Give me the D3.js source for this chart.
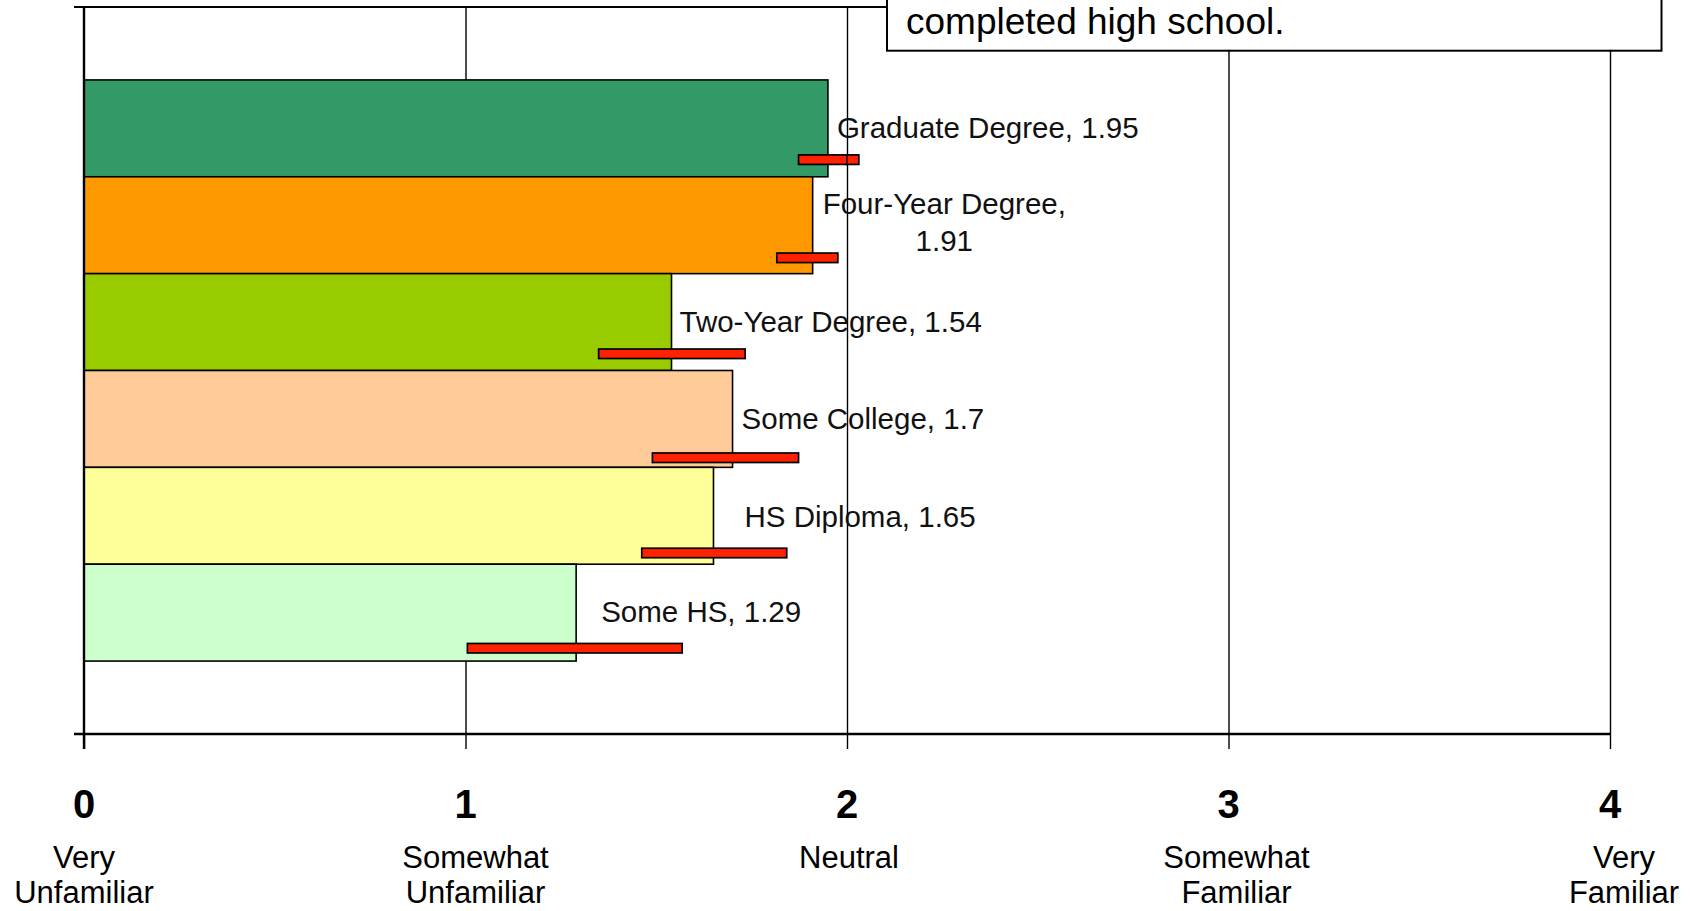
<!DOCTYPE html>
<html><head><meta charset="utf-8">
<script src="https://cdn.jsdelivr.net/npm/d3@7"></script>
<style>body{margin:0;background:#fff;} svg{display:block;font-family:"Liberation Sans",Arial,sans-serif;}</style>
</head><body><svg id="c" width="1690" height="911"></svg>
<script>
// ---- data ----
const categories = ["Graduate Degree","Four-Year Degree","Two-Year Degree","Some College","HS Diploma","Some HS"];
const means = [1.95,1.91,1.54,1.7,1.65,1.29];
const errLow = [1.873,1.816,1.349,1.490,1.462,1.005];
const errHigh = [2.031,1.976,1.733,1.873,1.842,1.568];
const errPos = [0.79,0.655,0.523,0.38,0.249,0.118];   // secondary (hidden) axis values of error markers
const barColors = ["#339966","#FF9900","#99CC00","#FFCC99","#FFFF99","#CCFFCC"];
const tickValues = [0,1,2,3,4];
const tickNames = [["Very","Unfamiliar"],["Somewhat","Unfamiliar"],["Neutral"],["Somewhat","Familiar"],["Very","Familiar"]];
const noteText = "completed high school.";
// ---- layout ----
const labelNudge = [9,10,8,9,31,25];
const labelWrap = [false,true,false,false,false,false];
const tickNameNudge = [0,10,2,8,14];

(function(){
const svg = d3.select("#c");
const pTop = 7, pBottom = 734, pLeft = 84, pRight = 1610;
const x = d3.scaleLinear().domain([0,4]).range([pLeft,pRight]);
const y = d3.scaleBand().domain(categories).range([pTop,pBottom]).paddingInner(0).paddingOuter(0.753);
const y2 = d3.scaleLinear().domain([0,1]).range([pBottom,pTop]);

// gridlines (behind bars)
const grid = svg.append("g").attr("transform",`translate(0,${pBottom})`)
  .call(d3.axisBottom(x).tickValues(tickValues.slice(1)).tickSize(-(pBottom-pTop)).tickFormat(""));
grid.select(".domain").remove();
grid.selectAll("line").attr("stroke","#000").attr("stroke-width",1.4);

// bars
svg.append("g").selectAll("rect").data(categories).join("rect")
  .attr("x",x(0)).attr("y",d=>y(d))
  .attr("width",(d,i)=>x(means[i])-x(0)).attr("height",y.bandwidth())
  .attr("fill",(d,i)=>barColors[i]).attr("stroke","#000").attr("stroke-width",1.6);

// error markers
const errH = 9.5;
svg.append("g").selectAll("rect").data(categories).join("rect")
  .attr("x",(d,i)=>x(errLow[i])).attr("y",(d,i)=>y2(errPos[i])-errH/2)
  .attr("width",(d,i)=>x(errHigh[i])-x(errLow[i])).attr("height",errH)
  .attr("fill","#FF2200").attr("stroke","#000").attr("stroke-width",1.7);

// gridlines over error markers (clipped)
const cp = svg.append("clipPath").attr("id","errclip");
cp.selectAll("rect").data(categories).join("rect")
  .attr("x",(d,i)=>x(errLow[i])).attr("y",(d,i)=>y2(errPos[i])-errH/2-1)
  .attr("width",(d,i)=>x(errHigh[i])-x(errLow[i])).attr("height",errH+2);
svg.append("g").attr("clip-path","url(#errclip)").selectAll("line").data(tickValues.slice(2)).join("line")
  .attr("x1",d=>x(d)).attr("x2",d=>x(d)).attr("y1",pTop).attr("y2",pBottom)
  .attr("stroke","#000").attr("stroke-width",1.4);

// data labels
const fs = 29.5;
const lab = svg.append("g").attr("font-size",fs).attr("fill","#111");
categories.forEach((c,i)=>{
  const cy = y(c)+y.bandwidth()/2 - 1;
  const lines = labelWrap[i] ? [c+",", String(means[i])] : [c+", "+means[i]];
  const t = lab.append("text").attr("text-anchor","middle");
  const lh = 37;
  const y0 = cy - (lines.length-1)*lh/2 - (lines.length>1?2:0) + fs*0.36 + (i===4?2:0);
  lines.forEach((l,k)=>t.append("tspan").attr("y",y0+k*lh).text(l));
  let w = 0;
  t.selectAll("tspan").each(function(){ w = Math.max(w,this.getComputedTextLength()); });
  t.selectAll("tspan").attr("x", x(means[i]) + labelNudge[i] + w/2);
});

// axes lines
const ax = svg.append("g").attr("stroke","#000");
ax.append("line").attr("x1",74).attr("x2",pRight).attr("y1",pTop).attr("y2",pTop).attr("stroke-width",2);
ax.append("line").attr("x1",pLeft).attr("x2",pLeft).attr("y1",pTop).attr("y2",pBottom+15).attr("stroke-width",2.4);
const xa = svg.append("g").attr("transform",`translate(0,${pBottom})`)
  .call(d3.axisBottom(x).tickValues(tickValues).tickSize(15).tickFormat("").tickSizeOuter(0));
xa.select(".domain").remove();
xa.selectAll("line").attr("stroke","#000").attr("stroke-width",1.4);
ax.append("line").attr("x1",74).attr("x2",pRight).attr("y1",pBottom).attr("y2",pBottom).attr("stroke-width",2.6);

// tick numbers
svg.append("g").selectAll("text").data(tickValues).join("text")
  .attr("x",d=>x(d)).attr("y",818).attr("text-anchor","middle")
  .attr("font-size",40).attr("font-weight","bold").attr("fill","#000").text(d=>d);

// tick names
const tn = svg.append("g").attr("font-size",31).attr("fill","#000").attr("text-anchor","middle");
tickValues.forEach((v,i)=>{
  const t = tn.append("text");
  tickNames[i].forEach((l,k)=>t.append("tspan").attr("x",x(v)+tickNameNudge[i]).attr("y",868+k*35).text(l));
});

// note box (top right, partially cut)
svg.append("rect").attr("x",887).attr("y",-80).attr("width",774.5).attr("height",130.7)
  .attr("fill","#fff").attr("stroke","#000").attr("stroke-width",2);
svg.append("text").attr("x",906).attr("y",34).attr("font-size",37).attr("fill","#000").text(noteText);
})();
</script></body></html>
